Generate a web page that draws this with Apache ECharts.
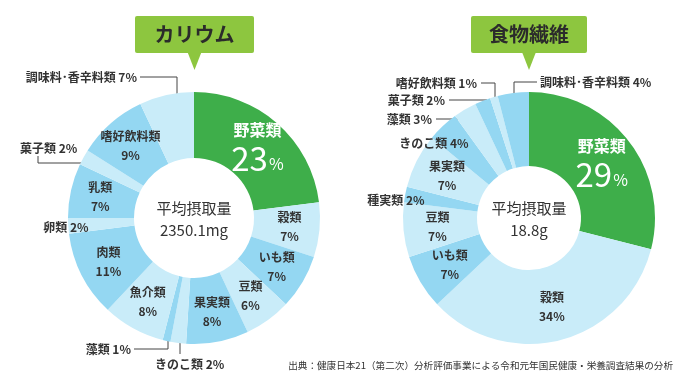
<!DOCTYPE html>
<html><head><meta charset="utf-8">
<script src="https://cdn.jsdelivr.net/npm/echarts@6/dist/echarts.min.js"></script>
<style>html,body{margin:0;padding:0;background:#fff}#c{width:686px;height:386px}</style>
</head><body><div id="c"></div>
<script>
// ---- data ----
const chartTitles = ['カリウム', '食物繊維'];
const potassiumCategories = ['野菜類','穀類','いも類','豆類','果実類','きのこ類','藻類','魚介類','肉類','卵類','乳類','菓子類','嗜好飲料類','調味料･香辛料類'];
const potassiumValues = [23,7,7,6,8,2,1,8,11,2,7,2,9,7];
const fiberCategories = ['野菜類','穀類','いも類','豆類','種実類','果実類','きのこ類','藻類','菓子類','嗜好飲料類','調味料･香辛料類'];
const fiberValues = [29,34,7,7,2,7,4,3,2,1,4];
const centerLines = [['平均摂取量','2350.1mg'], ['平均摂取量','18.8g']];
const sourceNote = '出典：健康日本21（第二次）分析評価事業による令和元年国民健康・栄養調査結果の分析';

// ---- style / layout ----
const FONT = '"Noto Sans CJK JP","Noto Sans",sans-serif';
const GREEN = '#3eae4a', LIGHT = '#c9ecf9', MID = '#94d7f2', TXT = '#333';
const centers = [[194, 218], [529, 218]];
const radii = [[60, 126], [52, 126]];
// outside label placement (annotations only)
const outsideLayout = [
  {
    '調味料･香辛料類': {x:137, y:77, align:'right', line:[[140,77],[177,77],[177,101]]},
    '菓子類': {x:20, y:148, align:'left', line:[[38,156],[38,163],[90,163]]},
    '卵類': {x:66, y:227, align:'center'},
    '藻類': {x:131, y:349, align:'right', line:[[134,349],[168,349],[168,337]]},
    'きのこ類': {x:155, y:364, align:'left', line:[[180,354],[180,345],[180,337]]}
  },
  {
    '嗜好飲料類': {x:477, y:83, align:'right', line:[[481,83],[495,83],[495,104]]},
    '菓子類': {x:445, y:100, align:'right', line:[[449,100],[487,100],[487,110]]},
    '藻類': {x:432, y:119, align:'right', line:[[436,119],[452,119],[468,119]]},
    'きのこ類': {x:434, y:143, align:'center'},
    '種実類': {x:396, y:200, align:'center'},
    '調味料･香辛料類': {x:540, y:82, align:'left', line:[[537,82],[514,82],[514,101]]}
  }
];

const richInside = {
  n: {fontSize: 12, fontWeight: 'bold', color: TXT, lineHeight: 19, fontFamily: FONT},
  p: {fontSize: 12, fontWeight: 'bold', color: TXT, lineHeight: 19, fontFamily: FONT},
  vn: {fontSize: 16, fontWeight: 'bold', color: '#fff', lineHeight: 26, fontFamily: FONT},
  vp: {fontSize: 33, color: '#fff', lineHeight: 32, fontFamily: FONT, verticalAlign: 'bottom'},
  vs: {fontSize: 16, color: '#fff', lineHeight: 32, fontFamily: FONT, verticalAlign: 'bottom', padding:[0,0,3,1]}
};

function buildData(cats, vals, layout) {
  return cats.map((c, i) => {
    const d = {name: c, value: vals[i], itemStyle: {color: i === 0 ? GREEN : (i % 2 === 1 ? LIGHT : MID)}};
    if (i === 0) {
      d.label = {formatter: p => '{vn|' + p.name + '}\n{vp|' + p.value + '}{vs|%}'};
    }
    if (layout[c]) {
      d.label = {position: 'outside', formatter: p => p.name + ' ' + p.value + '%',
        fontSize: 12, fontWeight: 'bold', color: TXT, fontFamily: FONT};
      d.labelLine = {show: !!layout[c].line, lineStyle: {color: '#444', width: 1}};
    }
    return d;
  });
}

function makeSeries(idx, cats, vals) {
  const layout = outsideLayout[idx];
  return {
    type: 'pie',
    center: centers[idx],
    radius: radii[idx],
    startAngle: 90,
    clockwise: true,
    avoidLabelOverlap: false,
    silent: true,
    itemStyle: {borderWidth: 0},
    label: {
      show: true, position: 'inside',
      formatter: p => '{n|' + p.name + '}\n{p|' + p.value + '%}',
      rich: richInside, fontFamily: FONT
    },
    labelLine: {show: false},
    labelLayout: function (p) {
      const L = layout[cats[p.dataIndex]];
      if (!L) return {};
      const o = {x: L.x, y: L.y, align: L.align, verticalAlign: 'middle'};
      if (L.line) o.labelLinePoints = L.line;
      return o;
    },
    data: buildData(cats, vals, layout)
  };
}

function titleGraphic(cx, w, text) {
  return [
    {type: 'rect', shape: {x: cx - w/2, y: 16, width: w, height: 37, r: 2}, style: {fill: '#8dc63f'}},
    {type: 'polygon', shape: {points: [[cx-7, 52], [cx+7, 52], [cx, 70]]}, style: {fill: '#8dc63f'}},
    {type: 'text', x: cx, y: 34, style: {text: text, font: 'bold 20px ' + FONT, fill: '#2b2b2b', align: 'center', verticalAlign: 'middle'}}
  ];
}
function centerGraphic(i) {
  return [
    {type: 'text', x: centers[i][0], y: 208, style: {text: centerLines[i][0], font: '15px ' + FONT, fill: TXT, align: 'center', verticalAlign: 'middle'}},
    {type: 'text', x: centers[i][0], y: 230, style: {text: centerLines[i][1], font: '15px ' + FONT, fill: TXT, align: 'center', verticalAlign: 'middle'}}
  ];
}

const chart = echarts.init(document.getElementById('c'));
chart.setOption({
  backgroundColor: '#fff',
  animation: false,
  series: [makeSeries(0, potassiumCategories, potassiumValues), makeSeries(1, fiberCategories, fiberValues)],
  graphic: [].concat(
    titleGraphic(194.5, 119, chartTitles[0]),
    titleGraphic(529, 116, chartTitles[1]),
    centerGraphic(0), centerGraphic(1),
    [{type: 'text', x: 673, y: 365, style: {text: sourceNote, font: '9.6px ' + FONT, fill: TXT, align: 'right', verticalAlign: 'middle'}}]
  )
});
</script>
</body></html>
